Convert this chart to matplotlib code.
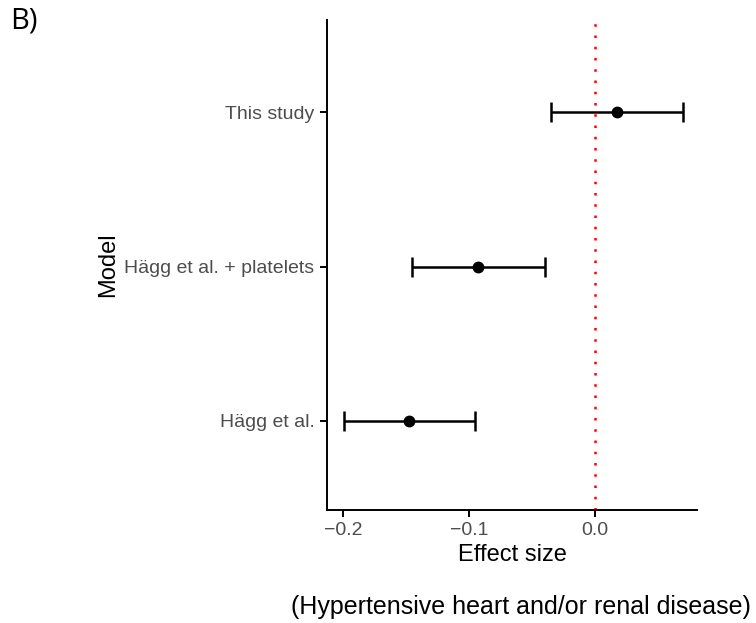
import matplotlib
matplotlib.use("Agg")
import matplotlib.pyplot as plt

plt.rcParams['font.family'] = ['Liberation Sans', 'DejaVu Sans']

# model estimates with confidence intervals
models = ["Hägg et al.", "Hägg et al. + platelets", "This study"]
estimate = [-0.1476, -0.0929, 0.0175]
ci_low = [-0.199, -0.145, -0.035]
ci_high = [-0.0952, -0.0397, 0.0698]

fig = plt.figure(figsize=(7.56, 6.23), dpi=100)
ax = fig.add_axes([0.4325, 0.1814, 0.4895, 0.7866])

ypos = list(range(1, len(models) + 1))
xerr = [[e - lo for e, lo in zip(estimate, ci_low)],
        [hi - e for e, hi in zip(estimate, ci_high)]]

ax.axvline(0, color="red", linestyle=(0, (1, 3.5)), linewidth=1.8, zorder=1)
ax.errorbar(estimate, ypos, xerr=xerr, fmt="o", color="black", ms=7.5,
            elinewidth=1.8, capsize=7, capthick=1.8, zorder=3)

ax.set_xlim(-0.2127, 0.081)
ax.set_ylim(0.42, 3.6)
ax.set_yticks(ypos)
ax.set_yticklabels(models)
ax.set_xticks([-0.2, -0.1, 0.0])
ax.set_xticklabels(["\u22120.2", "\u22120.1", "0.0"])

for side in ["top", "right"]:
    ax.spines[side].set_visible(False)
for side in ["left", "bottom"]:
    ax.spines[side].set_linewidth(1.4)
ax.tick_params(axis="both", labelsize=14, labelcolor="#4d4d4d", color="black",
               width=1.4, length=5, pad=4)

ax.set_xlabel("Effect size", fontsize=17, labelpad=3)
ax.set_ylabel("Model", fontsize=17, labelpad=4)

fig.text(0.013, 0.966, "B)", fontsize=21, family=["Open Sans", "DejaVu Sans"],
         va="center", ha="left")
fig.text(0.689, 0.026, "(Hypertensive heart and/or renal disease)",
         fontsize=18, ha="center", va="center")

fig.savefig("out.png", dpi=100)
